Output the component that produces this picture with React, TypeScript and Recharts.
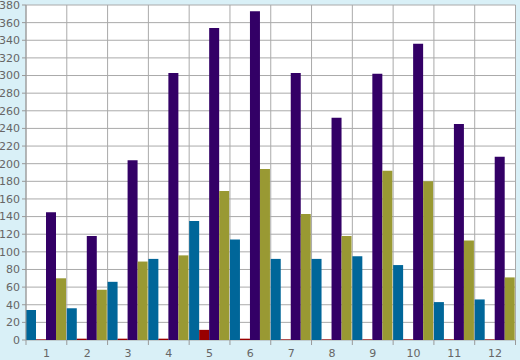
import React from 'react';
import { BarChart, Bar, XAxis, YAxis, CartesianGrid } from 'recharts';

const categories = ['1', '2', '3', '4', '5', '6', '7', '8', '9', '10', '11', '12'];
const blueValues = [34, 36, 66, 92, 135, 114, 92, 92, 95, 85, 43, 46];
const redValues = [0.7, 1.5, 1.5, 1.5, 11.5, 1.5, 0.7, 0.7, 0.7, 0.7, 0.7, 0.7];
const purpleValues = [145, 118, 204, 303, 354, 373, 303, 252, 302, 336, 245, 208];
const oliveValues = [70, 57, 89, 96, 169, 194, 143, 118, 192, 180, 113, 71];
const yTicks = [0, 20, 40, 60, 80, 100, 120, 140, 160, 180, 200, 220, 240, 260, 280, 300, 320, 340, 360, 380];

const data = categories.map((c, i) => ({
  name: c,
  blue: blueValues[i],
  red: redValues[i],
  purple: purpleValues[i],
  olive: oliveValues[i],
}));

const W = 520;
const H = 360;
const LEFT = 26;
const RIGHT = 4.5;
const TOP = 5;
const BOTTOM = 20;
const STEP = (W - LEFT - RIGHT) / categories.length;
const FONT = '"DejaVu Sans", Verdana, sans-serif';

const XTick = (props: any) => {
  const { x, payload, index } = props;
  const y = H - BOTTOM;
  const left = x - STEP / 2;
  return (
    <g>
      <line x1={left} y1={y} x2={left} y2={y + 5} stroke="#999" />
      {index === categories.length - 1 && (
        <line x1={x + STEP / 2} y1={y} x2={x + STEP / 2} y2={y + 5} stroke="#999" />
      )}
      <text x={x} y={y + 17} textAnchor="middle" fill="#666" fontSize={11} fontFamily={FONT}>
        {payload.value}
      </text>
    </g>
  );
};

export default function App() {
  return (
    <div style={{ position: 'absolute', left: 0, top: 0, width: W, height: H, background: '#d9f0f7' }}>
      <div
        style={{
          position: 'absolute',
          left: LEFT,
          top: TOP,
          width: W - LEFT - RIGHT,
          height: H - TOP - BOTTOM,
          background: '#ffffff',
        }}
      />
      <div style={{ position: 'absolute', left: 0, top: 0 }}>
        <BarChart
          width={W}
          height={H}
          data={data}
          margin={{ top: TOP, right: RIGHT, bottom: 0, left: 0 }}
          barCategoryGap="0%"
          barGap="0%"
        >
          <CartesianGrid
            stroke="#aaaaaa"
            verticalCoordinatesGenerator={({ offset }: any) =>
              categories.map((_, i) => offset.left + (i * offset.width) / categories.length).concat([offset.left + offset.width])
            }
          />
          <XAxis
            dataKey="name"
            height={BOTTOM}
            tickLine={false}
            axisLine={false}
            tick={<XTick />}
            interval={0}
          />
          <YAxis
            width={LEFT}
            domain={[0, 380]}
            ticks={yTicks}
            interval={0}
            tickSize={4}
            tickMargin={2}
            stroke="#999"
            axisLine={{ stroke: '#999' }}
            tickLine={{ stroke: '#999' }}
            tick={{ fill: '#666', fontSize: 11, fontFamily: FONT }}
          />
          <Bar dataKey="blue" fill="#006699" isAnimationActive={false} />
          <Bar dataKey="red" fill="#990000" isAnimationActive={false} />
          <Bar dataKey="purple" fill="#330066" isAnimationActive={false} />
          <Bar dataKey="olive" fill="#999933" isAnimationActive={false} />
        </BarChart>
      </div>
    </div>
  );
}
